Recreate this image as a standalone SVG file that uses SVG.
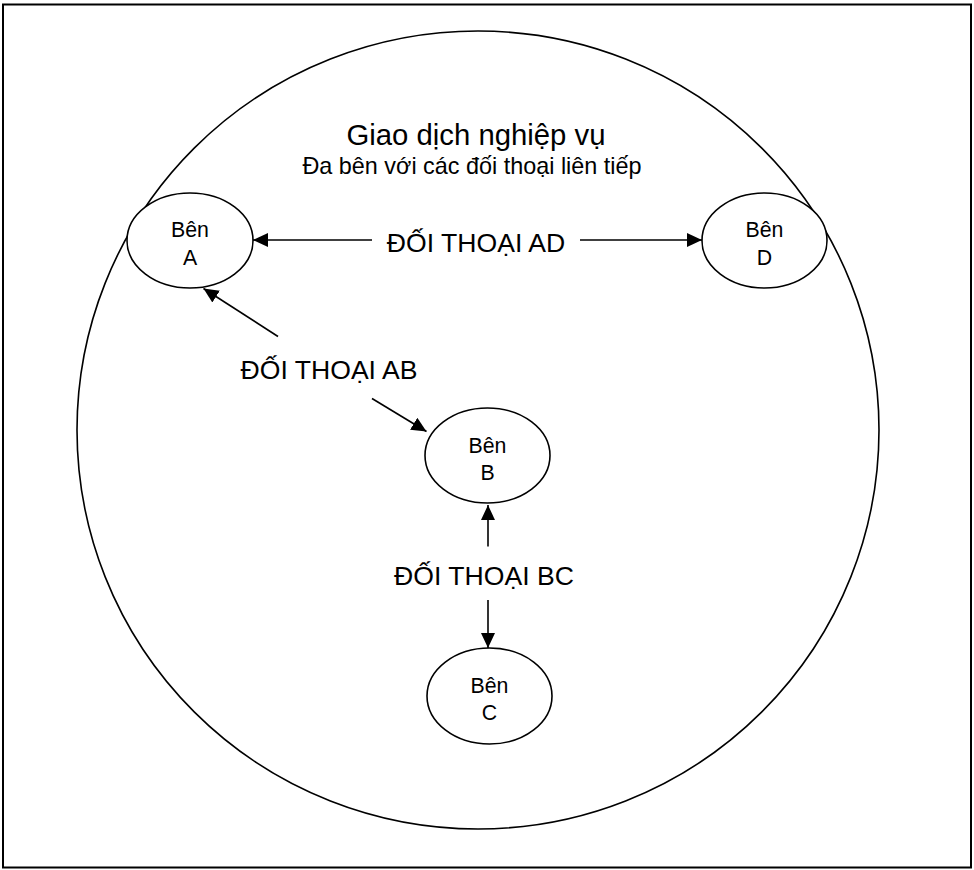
<svg xmlns="http://www.w3.org/2000/svg" width="974" height="870" viewBox="0 0 974 870">
<style>
.n{fill:#fff;stroke:#000;stroke-width:1.6}
.t{font-family:"Liberation Sans",Arial,sans-serif;fill:#000;text-anchor:middle}
.nt{font-size:21.3px}
.lt{font-size:26.6px}
.c{stroke:#000;stroke-width:1.6;fill:none}
</style>
<defs>
<marker id="ah" markerUnits="userSpaceOnUse" markerWidth="16" markerHeight="14" refX="15" refY="7" orient="auto">
<path d="M0,0 L15,7 L0,14 Z" fill="#000"/>
</marker>
</defs>
<rect x="3" y="4.5" width="968" height="863" fill="#fff" stroke="#000" stroke-width="2"/>
<g id="transaction">
<ellipse cx="478" cy="430" rx="401" ry="399" class="n"/>
<text class="t" x="476" y="145" font-size="29.3px">Giao dịch nghiệp vụ</text>
<text class="t" x="472" y="174" font-size="23.4px">Đa bên với các đối thoại liên tiếp</text>
</g>
<g id="ben-a">
<ellipse cx="190" cy="240.5" rx="63" ry="47.5" class="n"/>
<text class="t nt" x="190" y="237">Bên</text>
<text class="t nt" x="190" y="265">A</text>
</g>
<g id="ben-d">
<ellipse cx="764.5" cy="240.5" rx="62.5" ry="47.5" class="n"/>
<text class="t nt" x="764.5" y="237">Bên</text>
<text class="t nt" x="764.5" y="265">D</text>
</g>
<g id="ben-b">
<ellipse cx="487.5" cy="455.5" rx="62.5" ry="47.5" class="n"/>
<text class="t nt" x="487.5" y="453">Bên</text>
<text class="t nt" x="487.5" y="480">B</text>
</g>
<g id="ben-c">
<ellipse cx="489.5" cy="696" rx="62.5" ry="48" class="n"/>
<text class="t nt" x="489.5" y="693">Bên</text>
<text class="t nt" x="489.5" y="720">C</text>
</g>
<g id="connectors">
<line class="c" x1="372" y1="240" x2="253" y2="240" marker-end="url(#ah)"/>
<line class="c" x1="580" y1="240" x2="702" y2="240" marker-end="url(#ah)"/>
<line class="c" x1="278" y1="336.5" x2="203.5" y2="288.5" marker-end="url(#ah)"/>
<line class="c" x1="372" y1="398.5" x2="426.5" y2="431.5" marker-end="url(#ah)"/>
<line class="c" x1="488" y1="546.5" x2="488" y2="505" marker-end="url(#ah)"/>
<line class="c" x1="488" y1="600" x2="488" y2="648" marker-end="url(#ah)"/>
</g>
<g id="labels">
<text class="t lt" x="476" y="252">ĐỐI THOẠI AD</text>
<text class="t lt" x="329" y="379">ĐỐI THOẠI AB</text>
<text class="t lt" x="484" y="585">ĐỐI THOẠI BC</text>
</g>
</svg>
